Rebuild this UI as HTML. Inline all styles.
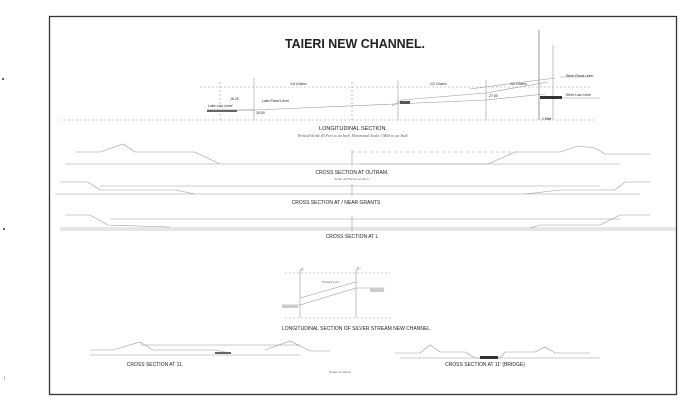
<!DOCTYPE html>
<html><head><meta charset="utf-8"><style>
html,body{margin:0;padding:0;background:#fff;}
svg{display:block}
text{font-family:"Liberation Sans",sans-serif;fill:#222}
.t{font-family:"Liberation Sans Narrow","Liberation Sans",sans-serif;}
.s{font-family:"Liberation Serif",serif;font-style:italic;fill:#555}
</style></head><body>
<svg width="700" height="411" viewBox="0 0 700 411" xmlns="http://www.w3.org/2000/svg">
<rect x="0" y="0" width="700" height="411" fill="#fff"/>
<rect x="49.5" y="16.5" width="627" height="378" fill="none" stroke="#333" stroke-width="1.3"/>
<circle cx="3" cy="79" r="1" fill="#333"/><circle cx="4" cy="229" r="1" fill="#333"/><text x="3" y="380" font-size="6">↑</text>
<text x="285" y="48" font-size="13" font-weight="bold" textLength="140" lengthAdjust="spacingAndGlyphs" class="t">TAIERI NEW CHANNEL.</text>
<g stroke="#999" stroke-width="0.6" fill="none">
<line x1="60" y1="120" x2="595" y2="120" stroke-dasharray="2,2"/>
<line x1="200" y1="87" x2="590" y2="87" stroke-dasharray="2,2"/>
<line x1="220" y1="82" x2="220" y2="120" stroke-dasharray="2,2"/>
<line x1="254" y1="78" x2="254" y2="120"/>
<line x1="352" y1="82" x2="352" y2="120" stroke-dasharray="2,2"/>
<line x1="398" y1="80" x2="398" y2="120"/>
<line x1="486" y1="80" x2="486" y2="120"/>
<line x1="539" y1="30" x2="539" y2="120" stroke="#555"/>
<line x1="553" y1="45" x2="553" y2="120"/>
<line x1="207" y1="110" x2="254" y2="110" stroke="#555"/>
<line x1="254" y1="110" x2="395" y2="104"/>
<line x1="395" y1="104" x2="486" y2="100"/>
<line x1="486" y1="100" x2="545" y2="94"/>
<line x1="392" y1="106" x2="402" y2="100"/>
<line x1="402" y1="100" x2="486" y2="93"/>
<line x1="486" y1="93" x2="548" y2="82"/>
<line x1="470" y1="89" x2="555" y2="78"/>
<line x1="560" y1="77" x2="590" y2="77"/>
<line x1="540" y1="98" x2="600" y2="98"/>
</g>
<rect x="207" y="110" width="30" height="2" fill="#666"/>
<rect x="540" y="96" width="22" height="3" fill="#333"/>
<rect x="400" y="101" width="10" height="3" fill="#555"/>
<g font-size="3.5" class="s">
<text x="208" y="107">Lake Low Level</text><text x="262" y="102">Lake Flood Level</text>
<text x="290" y="85">1/4 Chains</text><text x="430" y="85">1/2 Chains</text><text x="510" y="85">1/2 Chains</text>
<text x="566" y="77">River Flood Level</text><text x="566" y="96">River Low Level</text>
<text x="230" y="100">18.25</text><text x="256" y="114">28.00</text><text x="489" y="97">27.00</text>
<text x="542" y="120">1 Mile</text>
</g>
<text x="353" y="130" font-size="5.5" text-anchor="middle" class="t">LONGITUDINAL SECTION.</text>
<text x="353" y="137" font-size="4" text-anchor="middle" class="s">Vertical Scale 40 Feet to an Inch. Horizontal Scale 1 Mile to an Inch.</text>
<g stroke="#999" stroke-width="0.6" fill="none">
<polyline points="75,152 100,152 123,144 135,152 195,152 220,164"/>
<line x1="65" y1="164" x2="360" y2="164"/>
<polyline points="360,164 488,164 515,152 560,152 578,146 595,148 605,154 650,154"/>
<line x1="360" y1="164" x2="620" y2="164"/>
<line x1="352" y1="152" x2="520" y2="152" stroke-dasharray="3,3"/>
<line x1="352" y1="150" x2="352" y2="166"/>
<polyline points="60,182 88,182 100,190 175,190 195,194"/>
<line x1="55" y1="194" x2="640" y2="194"/>
<line x1="100" y1="186" x2="600" y2="186"/>
<polyline points="525,194 560,190 615,190 625,182 650,182"/>
<line x1="352" y1="184" x2="352" y2="196"/>
<polyline points="65,215 90,215 108,225 170,227"/>
<line x1="60" y1="228" x2="676" y2="228"/>
<line x1="60" y1="230" x2="676" y2="230"/>
<line x1="110" y1="219" x2="620" y2="219"/>
<polyline points="530,228 540,225 600,225 620,215 650,215"/>
<line x1="352" y1="216" x2="352" y2="231"/>
</g>
<text x="352" y="174" font-size="5" text-anchor="middle" class="t">CROSS SECTION AT OUTRAM.</text>
<text x="352" y="180" font-size="3.5" text-anchor="middle" class="s">Scale 40 Feet to an Inch.</text>
<text x="336" y="204" font-size="5" text-anchor="middle" class="t">CROSS SECTION AT / NEAR GRANTS</text>
<text x="352" y="238" font-size="5" text-anchor="middle" class="t">CROSS SECTION AT L</text>
<g stroke="#999" stroke-width="0.6" fill="none">
<line x1="285" y1="273" x2="390" y2="273" stroke-dasharray="2,2"/>
<line x1="285" y1="318" x2="392" y2="318" stroke-dasharray="2,2"/>
<line x1="300" y1="270" x2="300" y2="318"/>
<line x1="356" y1="270" x2="356" y2="318"/>
<line x1="300" y1="298" x2="356" y2="282"/>
<line x1="300" y1="305" x2="356" y2="288"/>
<polyline points="282,305 300,305"/>
<polyline points="356,288 385,288"/>
</g>
<rect x="282" y="305" width="16" height="3" fill="#ccc"/><rect x="370" y="288" width="14" height="4" fill="#ccc"/>
<text x="300" y="271" font-size="4" class="s">11</text><text x="356" y="270" font-size="4" class="s">11'</text>
<text x="322" y="283" font-size="3.5" class="s">Flood Level</text>
<text x="282" y="330" font-size="5" class="t">LONGITUDINAL SECTION OF SILVER STREAM NEW CHANNEL.</text>
<g stroke="#999" stroke-width="0.6" fill="none">
<polyline points="90,350 113,350 140,342 153,350 175,350 215,350 230,353"/>
<line x1="140" y1="345" x2="300" y2="345"/>
<polyline points="90,355 300,355"/>
<polyline points="265,350 290,341 310,351 330,351"/>
<polyline points="395,353 420,353 430,345 440,352 465,352 475,358 500,358 505,352 535,352 545,347 555,353 590,353"/>
<line x1="400" y1="358" x2="600" y2="358"/>
</g>
<rect x="480" y="356" width="18" height="3" fill="#333"/>
<rect x="215" y="352" width="16" height="2" fill="#666"/>
<text x="155" y="366" font-size="5" text-anchor="middle" class="t">CROSS SECTION AT 11.</text>
<text x="485" y="366" font-size="5" text-anchor="middle" class="t">CROSS SECTION AT 11' (BRIDGE)</text>
<text x="340" y="373" font-size="3.5" text-anchor="middle" class="s">Scales as above</text>
</svg>
</body></html>
